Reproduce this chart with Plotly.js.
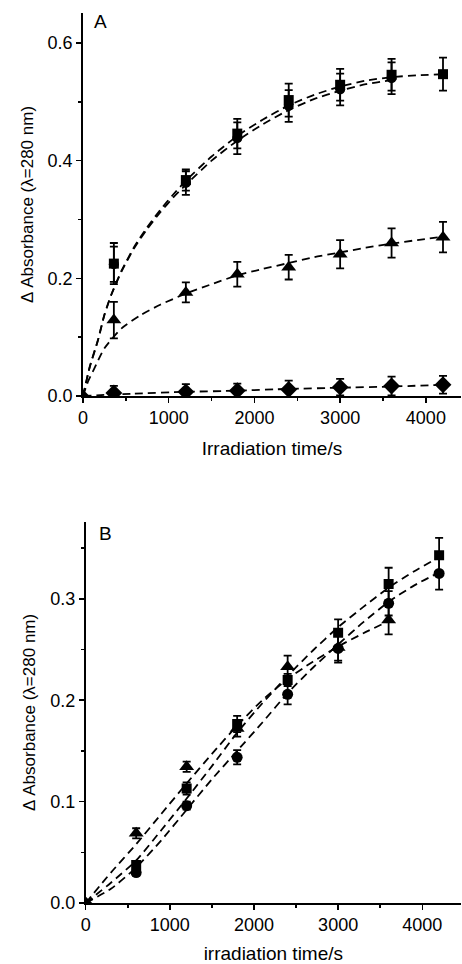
<!DOCTYPE html>
<html>
<head>
<meta charset="utf-8">
<script src="https://cdn.plot.ly/plotly-3.0.1.min.js"></script>
<style>html,body{margin:0;padding:0;background:#fff;}#chart{width:462px;height:964px;}</style>
</head>
<body>
<div id="chart"></div>
<script>
// ---------- Panel A data ----------
const tA = [360, 1200, 1800, 2400, 3000, 3600, 4200];
const aSquare = [0.225, 0.367, 0.446, 0.503, 0.529, 0.546, 0.547];
const aSquareErr = [0.035, 0.018, 0.025, 0.028, 0.027, 0.027, 0.028];
const tACircle = [360, 1200, 1800, 2400, 3000, 3600];
const aCircle = [0.224, 0.362, 0.438, 0.493, 0.521, 0.540];
const aCircleErr = [0.030, 0.020, 0.027, 0.027, 0.027, 0.027];
const aTriangle = [0.129, 0.176, 0.207, 0.219, 0.241, 0.260, 0.270];
const aTriangleErr = [0.031, 0.017, 0.021, 0.021, 0.024, 0.025, 0.026];
const aDiamond = [0.005, 0.007, 0.009, 0.011, 0.015, 0.017, 0.019];
const aDiamondErr = [0.012, 0.013, 0.012, 0.015, 0.014, 0.016, 0.015];

// fitted curves of panel A
const tFitASq = [0, 80, 175, 250, 330, 450, 600, 750, 900, 1050, 1200, 1500, 1800, 2100, 2400, 2700, 3000, 3300, 3600, 3900, 4200];
const fitASq = [0, 0.050, 0.095, 0.138, 0.172, 0.213, 0.254, 0.287, 0.316, 0.342, 0.366, 0.407, 0.442, 0.470, 0.494, 0.512, 0.526, 0.536, 0.542, 0.545, 0.547];
const tFitACi = [0, 80, 175, 250, 330, 450, 600, 750, 900, 1050, 1200, 1500, 1800, 2100, 2400, 2700, 3000, 3300, 3600];
const fitACi = [0, 0.050, 0.095, 0.138, 0.172, 0.212, 0.252, 0.284, 0.312, 0.337, 0.359, 0.400, 0.434, 0.462, 0.486, 0.505, 0.519, 0.530, 0.537];
const tFitATr = [0, 60, 130, 250, 450, 680, 900, 1200, 1500, 1800, 2100, 2400, 2700, 3000, 3300, 3600, 3900, 4200];
const fitATr = [0, 0.025, 0.046, 0.081, 0.115, 0.138, 0.155, 0.174, 0.190, 0.205, 0.216, 0.226, 0.236, 0.244, 0.252, 0.259, 0.265, 0.271];
const tFitADi = [0, 600, 1200, 1800, 2400, 3000, 3600, 4200];
const fitADi = [0, 0.004, 0.007, 0.009, 0.012, 0.014, 0.016, 0.019];

// ---------- Panel B data ----------
const tB = [600, 1200, 1800, 2400, 3000, 3600, 4200];
const bSquare = [0.0375, 0.113, 0.1765, 0.220, 0.2666, 0.3146, 0.343];
const bSquareErr = [0.004, 0.006, 0.008, 0.006, 0.013, 0.016, 0.017];
const bCircle = [0.030, 0.096, 0.1437, 0.2058, 0.251, 0.2955, 0.325];
const bCircleErr = [0.003, 0.004, 0.007, 0.010, 0.014, 0.012, 0.016];
const tBTriangle = [600, 1200, 1800, 2400, 3000, 3600];
const bTriangle = [0.0687, 0.1344, 0.172, 0.233, 0.252, 0.279];
const bTriangleErr = [0.005, 0.005, 0.008, 0.011, 0.013, 0.014];

const tFitB = [0, 300, 600, 900, 1200, 1500, 1800, 2100, 2400, 2700, 3000, 3300, 3600, 3900, 4200];
const fitBSq = [0, 0.020, 0.042, 0.072, 0.103, 0.135, 0.168, 0.197, 0.224, 0.249, 0.272, 0.292, 0.311, 0.327, 0.341];
const fitBCi = [0, 0.014, 0.035, 0.062, 0.092, 0.122, 0.150, 0.178, 0.207, 0.232, 0.255, 0.277, 0.297, 0.313, 0.326];
const tFitBTr = [0, 300, 600, 900, 1200, 1500, 1800, 2100, 2400, 2700, 3000, 3300, 3600];
const fitBTr = [0, 0.030, 0.058, 0.088, 0.118, 0.147, 0.175, 0.200, 0.221, 0.238, 0.253, 0.266, 0.278];

const tOrigin = [0];
const vOrigin = [0];

// ---------- styling ----------
const FONT = 'Liberation Sans, Arial, Helvetica, sans-serif';
const dashLine = {color: '#000', width: 1.8, dash: '8px,5px', shape: 'spline', smoothing: 0.6};
function fit(x, y, xa, ya) {
  return {x: x, y: y, xaxis: xa, yaxis: ya, type: 'scatter', mode: 'lines', line: dashLine, hoverinfo: 'skip'};
}
function pts(x, y, e, sym, size, xa, ya) {
  return {x: x, y: y, xaxis: xa, yaxis: ya, type: 'scatter', mode: 'markers',
    marker: {symbol: sym, size: size, color: '#000', line: {width: 0}},
    error_y: {type: 'data', array: e, visible: true, color: '#000', thickness: 1.8, width: 4}};
}
function origin(xa, ya) {
  return {x: tOrigin, y: vOrigin, xaxis: xa, yaxis: ya, type: 'scatter', mode: 'markers',
    marker: {symbol: 'diamond', size: 10, color: '#000'}, cliponaxis: true};
}

const traces = [
  fit(tFitASq, fitASq, 'x', 'y'),
  fit(tFitACi, fitACi, 'x', 'y'),
  fit(tFitATr, fitATr, 'x', 'y'),
  fit(tFitADi, fitADi, 'x', 'y'),
  pts(tA, aSquare, aSquareErr, 'square', 10, 'x', 'y'),
  pts(tACircle, aCircle, aCircleErr, 'circle', 10, 'x', 'y'),
  pts(tA, aTriangle, aTriangleErr, 'triangle-up', 13, 'x', 'y'),
  pts(tA, aDiamond, aDiamondErr, 'diamond', 13, 'x', 'y'),
  origin('x', 'y'),
  fit(tFitB, fitBSq, 'x2', 'y2'),
  fit(tFitB, fitBCi, 'x2', 'y2'),
  fit(tFitBTr, fitBTr, 'x2', 'y2'),
  pts(tB, bSquare, bSquareErr, 'square', 10, 'x2', 'y2'),
  pts(tB, bCircle, bCircleErr, 'circle', 11, 'x2', 'y2'),
  pts(tBTriangle, bTriangle, bTriangleErr, 'triangle-up', 13, 'x2', 'y2'),
  origin('x2', 'y2')
];

function xAxis(domain, range, anchor, title) {
  return {
    domain: domain, range: range, anchor: anchor, showgrid: false, zeroline: false,
    showline: true, linecolor: '#000', linewidth: 1.8,
    ticks: 'outside', ticklen: 5, tickwidth: 1.5, tickcolor: '#000',
    tick0: 0, dtick: 1000,
    minor: {ticks: 'outside', ticklen: 3, tickwidth: 1.5, tickcolor: '#000', dtick: 500, showgrid: false},
    tickfont: {family: FONT, size: 18, color: '#000'},
    title: {text: title, font: {family: FONT, size: 19, color: '#000'}, standoff: 14},
    automargin: false, fixedrange: true
  };
}
function yAxis(domain, range, anchor, dtick, minor) {
  return {
    domain: domain, range: range, anchor: anchor, showgrid: false, zeroline: false,
    showline: true, linecolor: '#000', linewidth: 1.8,
    ticks: 'outside', ticklen: 5, tickwidth: 1.5, tickcolor: '#000',
    tick0: 0, dtick: dtick, tickformat: '.1f',
    minor: {ticks: 'outside', ticklen: 3, tickwidth: 1.5, tickcolor: '#000', dtick: minor, showgrid: false},
    tickfont: {family: FONT, size: 18, color: '#000'},
    title: {text: 'Δ Absorbance (λ=280 nm)', font: {family: FONT, size: 17, color: '#000'}, standoff: 10},
    automargin: false, fixedrange: true
  };
}

const layout = {
  width: 462, height: 964,
  margin: {l: 83, r: 1, t: 13, b: 61},
  paper_bgcolor: '#fff', plot_bgcolor: '#fff',
  showlegend: false,
  xaxis: xAxis([0, 1], [0, 4410], 'y', 'Irradiation time/s'),
  yaxis: yAxis([0.5697, 1], [0, 0.651], 'x', 0.2, 0.1),
  xaxis2: xAxis([0.0071, 1], [0, 4460], 'y2', 'irradiation time/s'),
  yaxis2: yAxis([0, 0.4284], [0, 0.376], 'x2', 0.1, 0.05),
  annotations: [
    {text: 'A', xref: 'paper', yref: 'paper', x: 0.0476, y: 0.9899, showarrow: false,
     xanchor: 'center', yanchor: 'middle', font: {family: FONT, size: 19, color: '#000'}},
    {text: 'B', xref: 'paper', yref: 'paper', x: 0.0608, y: 0.4157, showarrow: false,
     xanchor: 'center', yanchor: 'middle', font: {family: FONT, size: 19, color: '#000'}}
  ]
};

Plotly.newPlot('chart', traces, layout, {staticPlot: true, displayModeBar: false});
</script>
</body>
</html>
